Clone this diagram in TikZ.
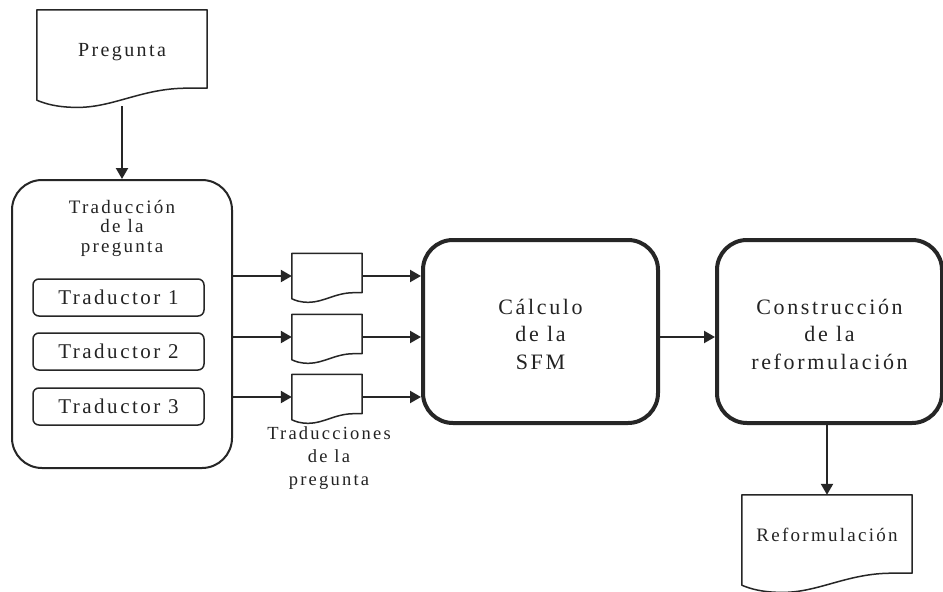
\documentclass[tikz,border=0pt]{standalone}
\usepackage{fontspec}
\setmainfont[LetterSpace=12]{Liberation Serif}
\usetikzlibrary{arrows.meta,calc}
\definecolor{ln}{RGB}{38,38,38}
\definecolor{tx}{RGB}{35,35,35}
\tikzset{
  arr/.style={draw=ln, line width=2.2pt, -{Triangle[length=11pt,width=12pt]}},
  docnode/.style={inner sep=0pt, text=tx, align=center, text depth=11pt},
  bigbox/.style={draw=ln, line width=4pt, rounded corners=30pt, inner sep=0pt,
    text=tx, align=center, font=\fontsize{22}{27.5}\selectfont,
    minimum height=183pt},
  tradbox/.style={draw=ln, line width=1.5pt, rounded corners=6pt, inner sep=0pt,
    text=tx, minimum width=171pt, minimum height=37pt,
    font=\fontsize{21}{24}\selectfont},
  lbl/.style={inner sep=0pt, text=tx, align=center}
}
% #1 = node name, #2 = wave size
\newcommand\docoutline[2]{%
  \draw[ln, line width=1.5pt, line join=round]
    (#1.south west) -- (#1.north west) -- (#1.north east)
    -- ([yshift=#2pt]#1.south east)
    -- ($(#1.south west)!0.88!(#1.south east)+(0,#2)$)
    .. controls ($(#1.south west)!0.62!(#1.south east)+(0,#2)$)
       and ($(#1.south west)!0.45!(#1.south east)+(0,{-0.6*#2})$)
    .. ($(#1.south west)!0.24!(#1.south east)+(0,{-0.6*#2})$)
    .. controls ($(#1.south west)!0.12!(#1.south east)+(0,{-0.6*#2})$)
       and ($(#1.south west)!0.05!(#1.south east)+(0,{-0.3*#2})$)
    .. (#1.south west) -- cycle;}
\begin{document}
\begin{tikzpicture}[x=1pt,y=1pt]
\useasboundingbox (0,0) rectangle (943,-592);
\fill[white] (0,0) rectangle (943,-592);

% Pregunta document
\node[docnode, minimum width=170pt, minimum height=90pt,
  font=\fontsize{20}{24}\selectfont] (preg) at (122,-55) {Pregunta};
\docoutline{preg}{12}

% Left container
\node[draw=ln, line width=2pt, rounded corners=30pt, minimum width=220pt,
  minimum height=288pt, inner sep=0pt] (trad) at (122,-324) {};
\node[lbl, anchor=north, font=\fontsize{19}{19.5}\selectfont] (tradtitle)
  at (122,-200) {Traducción\\de la\\pregunta};
\node[tradbox] (t1) at (118.5,-297.5) {Traductor 1};
\node[tradbox] (t2) at (118.5,-351.5) {Traductor 2};
\node[tradbox] (t3) at (118.5,-406.5) {Traductor 3};

% small documents
\node[docnode, minimum width=70pt, minimum height=45pt] (d1) at (327,-276) {};
\node[docnode, minimum width=70pt, minimum height=45pt] (d2) at (327,-337) {};
\node[docnode, minimum width=70pt, minimum height=45pt] (d3) at (327,-397) {};
\docoutline{d1}{6}
\docoutline{d2}{6}
\docoutline{d3}{6}
\node[lbl, anchor=north, font=\fontsize{18.5}{23}\selectfont] (tqlabel)
  at (329,-426) {Traducciones\\de la\\pregunta};

% main boxes
\node[bigbox, minimum width=235pt] (sfm) at (540.5,-331.5)
  {\rule{0pt}{21pt}Cálculo\\de la\\SFM};
\node[bigbox, minimum width=225pt] (constr) at (829.5,-331.5)
  {\rule{0pt}{21pt}Construcción\\de la\\reformulación};

% Reformulacion document
\node[docnode, minimum width=170pt, minimum height=90pt,
  font=\fontsize{19}{23}\selectfont] (refo) at (827,-540) {Reformulación};
\docoutline{refo}{12}

% connectors
\draw[arr] ($(preg.south)+(0,-6)$) -- (trad.north);
\draw[arr] (trad.east |- d1.west) -- (d1.west);
\draw[arr] (trad.east |- d2.west) -- (d2.west);
\draw[arr] (trad.east |- d3.west) -- (d3.west);
\draw[arr] (d1.east) -- (sfm.west |- d1.east);
\draw[arr] (d2.east) -- (sfm.west |- d2.east);
\draw[arr] (d3.east) -- (sfm.west |- d3.east);
\draw[arr] (sfm.east |- d2.east) -- (constr.west |- d2.east);
\draw[arr] (refo.north |- constr.south) -- (refo.north);
\end{tikzpicture}
\end{document}
